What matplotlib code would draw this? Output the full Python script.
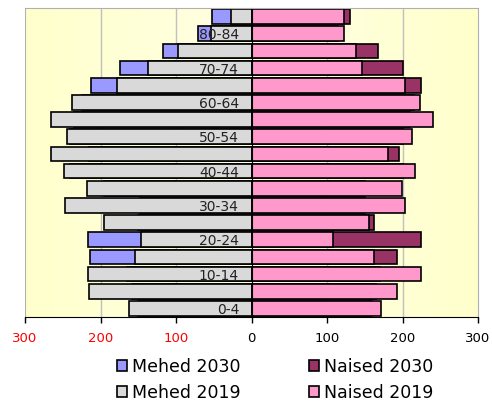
import numpy as np
import matplotlib
matplotlib.use("Agg")
import matplotlib.pyplot as plt
from matplotlib.colors import LinearSegmentedColormap

# vanuserühmad (alt üles)
groups = ["0-4", "5-9", "10-14", "15-19", "20-24", "25-29", "30-34", "35-39",
          "40-44", "45-49", "50-54", "55-59", "60-64", "65-69", "70-74",
          "75-79", "80-84", "85+"]

mehed_2019 = [162, 215, 217, 154, 146, 195, 247, 218, 248, 266, 244, 266,
              238, 178, 137, 98, 53, 27]
mehed_2030 = [150, 158, 165, 214, 217, 150, 148, 195, 240, 215, 240, 235,
              225, 212, 174, 117, 71, 52]
naised_2019 = [171, 193, 225, 162, 108, 155, 203, 199, 216, 181, 212, 240,
               223, 203, 147, 138, 122, 123]
naised_2030 = [160, 165, 170, 193, 224, 162, 150, 150, 200, 196, 200, 210,
               215, 225, 201, 167, 115, 130]

xticks = [-300, -200, -100, 0, 100, 200, 300]

c_m30 = "#9999FF"
c_n30 = "#993366"
c_m19 = "#D9D9D9"
c_n19 = "#FF99CC"

fig = plt.figure(figsize=(4.92, 4.05), dpi=100)
ax = fig.add_axes([25 / 492, 1 - 317 / 405, 453 / 492, 309 / 405])

y = np.arange(len(groups))
h = 0.86
kw = dict(height=h, edgecolor="black", linewidth=1.2, zorder=1)

# 2030 taga, 2019 peal
b1 = ax.barh(y, -np.array(mehed_2030), color=c_m30, label="Mehed 2030", **kw)
b2 = ax.barh(y, naised_2030, color=c_n30, label="Naised 2030", **kw)
b3 = ax.barh(y, -np.array(mehed_2019), color=c_m19, label="Mehed 2019", **kw)
b4 = ax.barh(y, naised_2019, color=c_n19, label="Naised 2019", **kw)

# taust
cmap = LinearSegmentedColormap.from_list("bg", ["#FFFFCC", "#FFFFE4", "#FFFFCC"])
grad = np.linspace(0, 1, 256).reshape(1, -1)
ax.imshow(grad, cmap=cmap, aspect="auto", extent=[0, 1, 0, 1],
          transform=ax.transAxes, zorder=0)

ax.set_xlim(-300, 300)
ax.set_ylim(-0.5, len(groups) - 0.5)

for gx in [-200, -100, 100, 200]:
    ax.axvline(gx, color="#C0C0C0", linewidth=1, zorder=0.5)
# vasak piir hallina
ax.axvline(-300, color="#B0B0B0", linewidth=1.5, zorder=0.5)

ax.spines["left"].set_position(("data", 0))
ax.spines["left"].set_color("black")
for s in ["top", "right"]:
    ax.spines[s].set_color("#B0B0B0")
ax.spines["bottom"].set_color("black")

ax.set_xticks(xticks)
ax.set_xticklabels([str(abs(v)) for v in xticks], fontsize=9.5)
for lab, v in zip(ax.get_xticklabels(), xticks):
    lab.set_color("red" if v < 0 else "black")
ax.tick_params(axis="x", direction="out", length=4, pad=7, width=1)

ax.set_yticks(y[::2])
ax.set_yticklabels(groups[::2])
ax.tick_params(axis="y", length=0, pad=9, labelsize=10, labelcolor="#222222",
               labelleft=True)

fig.legend([b1, b3, b2, b4], ["Mehed 2030", "Mehed 2019", "Naised 2030", "Naised 2019"],
           ncol=2, loc="center", bbox_to_anchor=(0.559, 0.062), frameon=False,
           fontsize=12.5, handlelength=0.6, handleheight=0.6, handletextpad=0.3,
           columnspacing=3.9, labelspacing=0.45)

fig.savefig("out.png", dpi=100)
